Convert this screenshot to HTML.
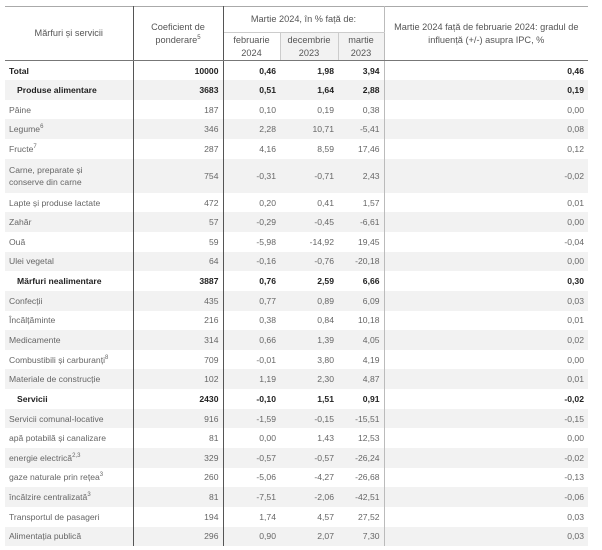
<!DOCTYPE html>
<html><head><meta charset="utf-8"><style>
body{margin:0;background:#fff;width:602px;height:550px;overflow:hidden;font-family:"Liberation Sans",sans-serif;}
table{position:absolute;left:5px;top:6px;width:583px;border-collapse:collapse;font-size:8.6px;color:#666;table-layout:fixed;}
td,th{padding:0 4px;height:19.65px;box-sizing:border-box;}
th{font-weight:normal;color:#555;text-align:center;border-bottom:1px solid #777;font-size:9.2px;line-height:13px;}
thead tr:first-child th{border-top:1px solid #aaa;}
.c1{text-align:left;border-right:1px solid #555;}
.c2{text-align:right;border-right:1px solid #555;}
.c3{text-align:right;}
.c4{text-align:right;}
.c5{text-align:right;border-right:1px solid #bbb;}
.c6{text-align:right;}
tbody tr:nth-child(even){background:#f2f2f2;}
tbody tr.b{color:#222;font-weight:bold;}
.ind{padding-left:12px;}
sup{font-size:6px;line-height:0;}
</style></head><body>
<table>
<colgroup><col style="width:128px"><col style="width:90px"><col style="width:57px"><col style="width:58px"><col style="width:46px"><col></colgroup>
<thead>
<tr><th class="c1" rowspan="2" style="text-align:center;height:26px">Mărfuri și servicii</th><th class="c2" rowspan="2" style="text-align:center">Coeficient de<br>ponderare<sup>5</sup></th><th colspan="3" style="height:26px;border-right:1px solid #bbb;border-bottom:1px solid #ccc">Martie 2024, în % față de:</th><th class="c6" rowspan="2" style="text-align:center">Martie 2024 față de februarie 2024: gradul de<br>influență (+/-) asupra IPC, %</th></tr>
<tr><th style="height:28px;border-right:1px solid #ccc">februarie<br>2024</th><th style="background:#f2f2f2;border-right:1px solid #ccc">decembrie<br>2023</th><th style="background:#f2f2f2;border-right:1px solid #bbb">martie<br>2023</th></tr>
</thead>
<tbody>
<tr class="b"><td class="c1">Total</td><td class="c2">10000</td><td class="c3">0,46</td><td class="c4">1,98</td><td class="c5">3,94</td><td class="c6">0,46</td></tr>
<tr class="b"><td class="c1 ind">Produse alimentare</td><td class="c2">3683</td><td class="c3">0,51</td><td class="c4">1,64</td><td class="c5">2,88</td><td class="c6">0,19</td></tr>
<tr><td class="c1">Pâine</td><td class="c2">187</td><td class="c3">0,10</td><td class="c4">0,19</td><td class="c5">0,38</td><td class="c6">0,00</td></tr>
<tr><td class="c1">Legume<sup>6</sup></td><td class="c2">346</td><td class="c3">2,28</td><td class="c4">10,71</td><td class="c5">-5,41</td><td class="c6">0,08</td></tr>
<tr><td class="c1">Fructe<sup>7</sup></td><td class="c2">287</td><td class="c3">4,16</td><td class="c4">8,59</td><td class="c5">17,46</td><td class="c6">0,12</td></tr>
<tr><td class="c1" style="height:34px;line-height:12px">Carne, preparate și<br>conserve din carne</td><td class="c2">754</td><td class="c3">-0,31</td><td class="c4">-0,71</td><td class="c5">2,43</td><td class="c6">-0,02</td></tr>
<tr><td class="c1">Lapte și produse lactate</td><td class="c2">472</td><td class="c3">0,20</td><td class="c4">0,41</td><td class="c5">1,57</td><td class="c6">0,01</td></tr>
<tr><td class="c1">Zahăr</td><td class="c2">57</td><td class="c3">-0,29</td><td class="c4">-0,45</td><td class="c5">-6,61</td><td class="c6">0,00</td></tr>
<tr><td class="c1">Ouă</td><td class="c2">59</td><td class="c3">-5,98</td><td class="c4">-14,92</td><td class="c5">19,45</td><td class="c6">-0,04</td></tr>
<tr><td class="c1">Ulei vegetal</td><td class="c2">64</td><td class="c3">-0,16</td><td class="c4">-0,76</td><td class="c5">-20,18</td><td class="c6">0,00</td></tr>
<tr class="b"><td class="c1 ind">Mărfuri nealimentare</td><td class="c2">3887</td><td class="c3">0,76</td><td class="c4">2,59</td><td class="c5">6,66</td><td class="c6">0,30</td></tr>
<tr><td class="c1">Confecții</td><td class="c2">435</td><td class="c3">0,77</td><td class="c4">0,89</td><td class="c5">6,09</td><td class="c6">0,03</td></tr>
<tr><td class="c1">Încălțăminte</td><td class="c2">216</td><td class="c3">0,38</td><td class="c4">0,84</td><td class="c5">10,18</td><td class="c6">0,01</td></tr>
<tr><td class="c1">Medicamente</td><td class="c2">314</td><td class="c3">0,66</td><td class="c4">1,39</td><td class="c5">4,05</td><td class="c6">0,02</td></tr>
<tr><td class="c1">Combustibili și carburanți<sup>8</sup></td><td class="c2">709</td><td class="c3">-0,01</td><td class="c4">3,80</td><td class="c5">4,19</td><td class="c6">0,00</td></tr>
<tr><td class="c1">Materiale de construcție</td><td class="c2">102</td><td class="c3">1,19</td><td class="c4">2,30</td><td class="c5">4,87</td><td class="c6">0,01</td></tr>
<tr class="b"><td class="c1 ind">Servicii</td><td class="c2">2430</td><td class="c3">-0,10</td><td class="c4">1,51</td><td class="c5">0,91</td><td class="c6">-0,02</td></tr>
<tr><td class="c1">Servicii comunal-locative</td><td class="c2">916</td><td class="c3">-1,59</td><td class="c4">-0,15</td><td class="c5">-15,51</td><td class="c6">-0,15</td></tr>
<tr><td class="c1">apă potabilă și canalizare</td><td class="c2">81</td><td class="c3">0,00</td><td class="c4">1,43</td><td class="c5">12,53</td><td class="c6">0,00</td></tr>
<tr><td class="c1">energie electrică<sup>2,3</sup></td><td class="c2">329</td><td class="c3">-0,57</td><td class="c4">-0,57</td><td class="c5">-26,24</td><td class="c6">-0,02</td></tr>
<tr><td class="c1">gaze naturale prin rețea<sup>3</sup></td><td class="c2">260</td><td class="c3">-5,06</td><td class="c4">-4,27</td><td class="c5">-26,68</td><td class="c6">-0,13</td></tr>
<tr><td class="c1">încălzire centralizată<sup>3</sup></td><td class="c2">81</td><td class="c3">-7,51</td><td class="c4">-2,06</td><td class="c5">-42,51</td><td class="c6">-0,06</td></tr>
<tr><td class="c1">Transportul de pasageri</td><td class="c2">194</td><td class="c3">1,74</td><td class="c4">4,57</td><td class="c5">27,52</td><td class="c6">0,03</td></tr>
<tr><td class="c1">Alimentația publică</td><td class="c2">296</td><td class="c3">0,90</td><td class="c4">2,07</td><td class="c5">7,30</td><td class="c6">0,03</td></tr>
</tbody></table>
</body></html>
